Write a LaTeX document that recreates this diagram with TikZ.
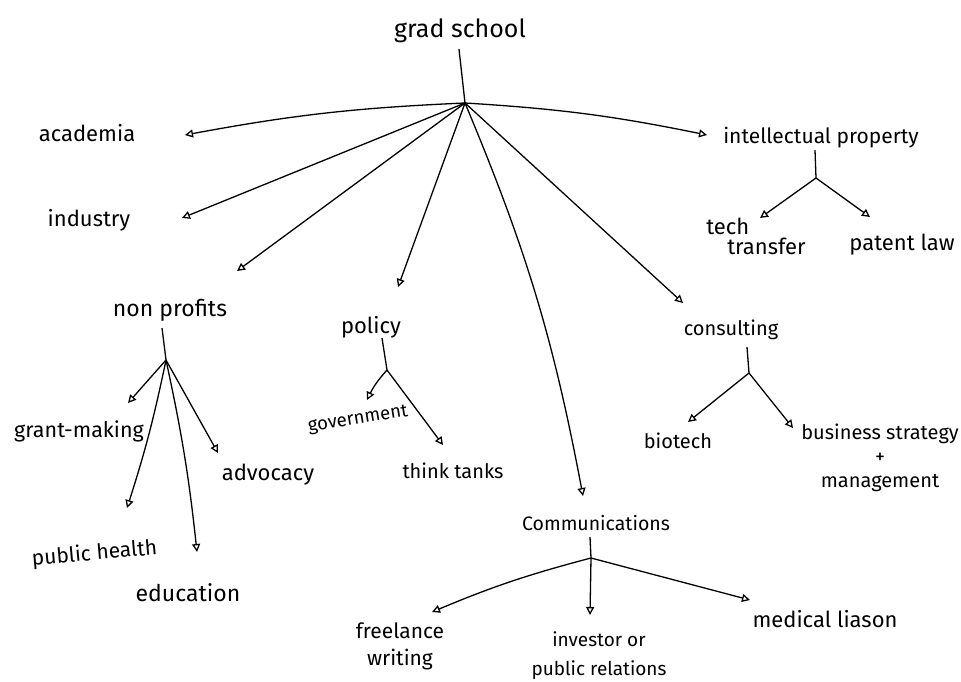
\documentclass[tikz,border=0pt]{standalone}
\usepackage{fontspec}
\setmainfont{Fira Sans}
\usepackage{tikz}
\usetikzlibrary{arrows.meta,positioning,calc}
\tikzstyle{root}=[anchor=base, inner sep=1pt, font=\fontsize{25}{28}\selectfont]
\tikzstyle{field}=[anchor=base, inner sep=1pt, font=\fontsize{22}{24}\selectfont]
\tikzstyle{twig}=[anchor=base, inner sep=1pt, align=center, font=\fontsize{21}{23}\selectfont]
\tikzstyle{stem}=[draw, line width=1.3pt, color=black]
\tikzstyle{line}=[stem, -{Triangle[open, length=8pt, width=8pt]}]
\newcommand{\field}[3]{node (#1)[field,#2]{#3}}
\newcommand{\twig}[3]{node (#1)[twig,#2]{#3}}

\begin{document}
\begin{tikzpicture}[x=1pt,y=-1pt]
	\useasboundingbox[fill=white] (0,0) rectangle (961,682);

	% Draw diagram elements
	\path (460,38) node (grad)[root]{grad school};
	\path (87,142) \field{acad}{}{academia};
	\path (89,226) \field{ind}{}{industry};
	\path (170,316) \field{np}{font=\fontsize{23}{25}\selectfont}{non profits};
	\path (371,333) \field{pol}{}{policy};
	\path (596,530) \field{comm}{font=\fontsize{19.5}{21}\selectfont}{Communications};
	\path (731,335) \field{cons}{font=\fontsize{20}{22}\selectfont}{consulting};
	\path (821,143) \field{ip}{font=\fontsize{21}{23}\selectfont}{intellectual property};

	% joints under each branch
	\coordinate (hub) at (465,103);
	\coordinate (jip) at (816,178);
	\coordinate (jnp) at (166,360);
	\coordinate (jpol) at (387,370);
	\coordinate (jcons) at (749,373);
	\coordinate (jcomm) at (591,558);

	\path (756,236) \twig{tt}{anchor=center, align=left, font=\fontsize{22}{20}\selectfont}{tech\\\hspace{21pt}transfer};
	\path (902,250) \twig{pat}{font=\fontsize{22}{24}\selectfont}{patent law};
	\path (79,437) \twig{grant}{font=\fontsize{21.5}{23}\selectfont}{grant-making};
	\path (95,560) \twig{pub}{rotate=5}{public health};
	\path (188,601) \twig{edu}{font=\fontsize{23}{25}\selectfont}{education};
	\path (268,480) \twig{adv}{font=\fontsize{22}{24}\selectfont}{advocacy};
	\path (358,420) \twig{gov}{anchor=center, rotate=9, font=\fontsize{18.5}{20}\selectfont}{government};
	\path (453,478) \twig{think}{font=\fontsize{20}{22}\selectfont}{think tanks};
	\path (678,448) \twig{bio}{font=\fontsize{20}{22}\selectfont}{biotech};
	\path (880,458) \twig{biz}{anchor=center, font=\fontsize{20}{24}\selectfont}{business strategy\\+\\management};
	\path (400,646) \twig{free}{anchor=center, font=\fontsize{21}{27}\selectfont}{freelance\\writing};
	\path (599,656) \twig{inv}{anchor=center, font=\fontsize{19}{29}\selectfont}{investor or\\public relations};
	\path (825,627) \twig{med}{font=\fontsize{22}{24}\selectfont}{medical liason};

	% Draw arrows between elements
	\path [stem] ($(grad.base)+(-1,11)$) -- (hub);
	\path [line] (hub) to[bend right=4] ($(acad.base)+(98,-7)$);
	\path [line] (hub) -- ($(ind.base)+(93,-8)$);
	\path [line] (hub) -- ($(np.base)+(67,-45)$);
	\path [line] (hub) -- ($(pol.base)+(27,-46)$);
	\path [line] (hub) to[bend left=6] ($(comm.base)+(-13,-34)$);
	\path [line] (hub) -- ($(cons.base)+(-48,-32)$);
	\path [line] (hub) to[bend left=4] ($(ip.base)+(-114,-8)$);

	\path [stem] ($(ip.base)+(-6,7)$) -- (jip);
	\path [line] (jip) -- ($(tt)+(4,-18)$);
	\path [line] (jip) -- ($(pat.base)+(-32,-33)$);

	\path [stem] ($(np.base)+(-8,12)$) -- (jnp);
	\path [line] (jnp) -- ($(grant.base)+(49,-34)$);
	\path [line] (jnp) to[bend left=3] ($(pub.base)+(32,-52)$);
	\path [line] (jnp) to[bend left=3] ($(edu.base)+(9,-49)$);
	\path [line] (jnp) -- ($(adv.base)+(-50,-27)$);

	\path [stem] ($(pol.base)+(11,5)$) -- (jpol);
	\path [line] (jpol) to[bend right=8] ($(gov)+(9,-20)$);
	\path [line] (jpol) -- ($(think.base)+(-10,-33)$);

	\path [stem] ($(cons.base)+(16,12)$) -- (jcons);
	\path [line] (jcons) -- ($(bio.base)+(10,-26)$);
	\path [line] (jcons) -- ($(biz)+(-87,-30)$);

	\path [stem] ($(comm.base)+(-6,7)$) -- (jcomm);
	\path [line] (jcomm) to[bend right=4] ($(free)+(32,-34)$);
	\path [line] (jcomm) -- ($(inv)+(-9,-41)$);
	\path [line] (jcomm) -- ($(med.base)+(-75,-27)$);
\end{tikzpicture}
\end{document}
